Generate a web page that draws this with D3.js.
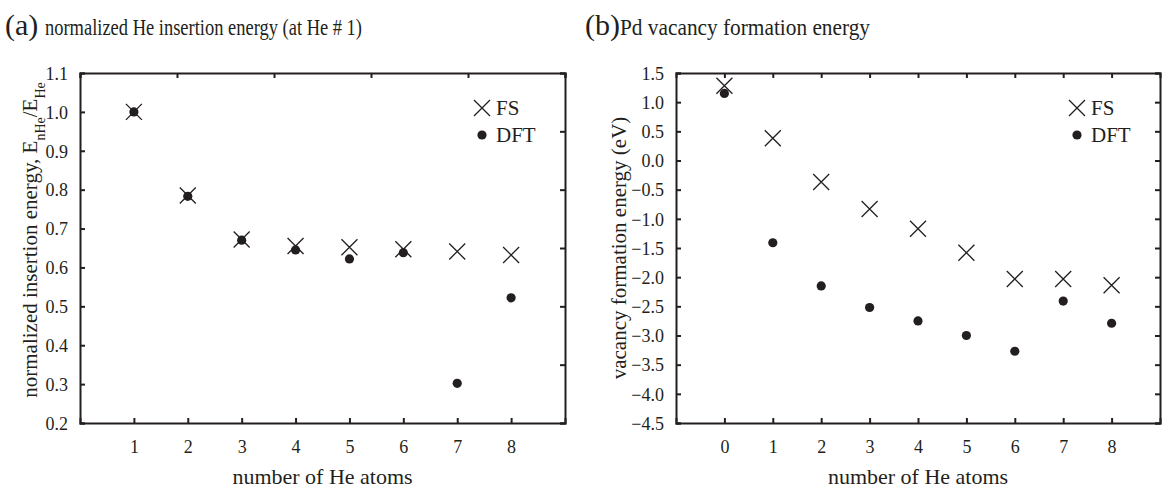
<!DOCTYPE html>
<html>
<head>
<meta charset="utf-8">
<script src="https://cdn.jsdelivr.net/npm/d3@7"></script>
<style>
  body { margin: 0; background: #fff; }
  text { font-family: "Liberation Serif", "Times New Roman", serif; fill: #231f20; }
</style>
</head>
<body>
<svg class="chart"></svg>
<script>
// Panel (a): normalized He insertion energy
const heCountA = [1, 2, 3, 4, 5, 6, 7, 8];
const fsA = [1.0, 0.785, 0.672, 0.655, 0.652, 0.647, 0.641, 0.632];
const dftA = [1.0, 0.783, 0.670, 0.645, 0.622, 0.638, 0.302, 0.522];
const yTicksA = [0.2, 0.3, 0.4, 0.5, 0.6, 0.7, 0.8, 0.9, 1.0, 1.1];

// Panel (b): Pd vacancy formation energy
const heCountB = [0, 1, 2, 3, 4, 5, 6, 7, 8];
const fsB = [1.28, 0.38, -0.37, -0.83, -1.17, -1.58, -2.03, -2.03, -2.14];
const dftB = [1.15, -1.41, -2.15, -2.52, -2.75, -3.0, -3.27, -2.41, -2.79];
const yTicksB = [-4.5, -4.0, -3.5, -3.0, -2.5, -2.0, -1.5, -1.0, -0.5, 0.0, 0.5, 1.0, 1.5];

const width = 1162, height = 489;
const ink = "#231f20";

const svg = d3.select(".chart").attr("width", width).attr("height", height);

// X marker drawn with strokes
const symX = {
  draw(ctx, size) {
    const r = Math.sqrt(size) / 2;
    ctx.moveTo(-r, -r); ctx.lineTo(r, r);
    ctx.moveTo(r, -r); ctx.lineTo(-r, r);
  }
};

function drawPanel(p) {
  const g = svg.append("g").attr("class", "panel");
  const x = d3.scaleLinear().domain(p.xDomain).range([p.left, p.right]);
  const y = d3.scaleLinear().domain(p.yDomain).range([p.bottom, p.top]);

  // frame mirror axes (tick marks only)
  const xTop = d3.scaleLinear().domain([0, p.topTicks]).range([p.left, p.right]);
  const yRight = d3.scaleLinear().domain([0, p.rightTicks]).range([p.bottom, p.top]);

  g.append("g").attr("class", "axis axis--top")
    .attr("transform", `translate(0,${p.top})`)
    .call(d3.axisBottom(p.mirror ? x : xTop).tickValues(p.mirror ? p.xTicks : d3.range(p.topTicks + 1)).tickSize(5).tickFormat(""));
  g.append("g").attr("class", "axis axis--right")
    .attr("transform", `translate(${p.right},0)`)
    .call(d3.axisLeft(p.mirror ? y : yRight).tickValues(p.mirror ? p.yTicks : d3.range(p.rightTicks + 1)).tickSize(5).tickFormat(""));

  g.append("g").attr("class", "axis axis--x")
    .attr("transform", `translate(0,${p.bottom})`)
    .call(d3.axisTop(x).tickValues(p.xTicks).tickSize(5).tickFormat(d3.format("d")));
  g.append("g").attr("class", "axis axis--y")
    .attr("transform", `translate(${p.left},0)`)
    .call(d3.axisRight(y).tickValues(p.yTicks).tickSize(5).tickFormat(d3.format(".1f")));

  g.selectAll(".axis").attr("font-family", null).attr("font-size", null);
  g.selectAll(".axis path.domain").attr("stroke", ink).attr("stroke-width", 2);
  g.selectAll(".axis line").attr("stroke", ink).attr("stroke-width", 2);

  // move tick labels outside the frame
  g.select(".axis--x").selectAll("text")
    .attr("y", 30).attr("dy", 0)
    .style("font-size", "18px");
  g.select(".axis--y").selectAll("text")
    .attr("x", -12).attr("dy", "0.35em").attr("text-anchor", "end")
    .style("font-size", "18px");

  // data
  g.append("g").selectAll("circle").data(p.dft).join("circle")
    .attr("cx", (d, i) => x(p.he[i]))
    .attr("cy", d => y(d))
    .attr("r", 4.6)
    .attr("fill", ink);
  g.append("g").selectAll("path").data(p.fs).join("path")
    .attr("transform", (d, i) => `translate(${x(p.he[i])},${y(d)})`)
    .attr("d", d3.symbol(symX, 256))
    .attr("fill", "none").attr("stroke", ink).attr("stroke-width", 1.3);

  // legend
  const lx = p.right - 83, ly = p.top + 35;
  g.append("path").attr("transform", `translate(${lx},${ly})`)
    .attr("d", d3.symbol(symX, 256)).attr("fill", "none").attr("stroke", ink).attr("stroke-width", 1.3);
  g.append("text").attr("x", lx + 14).attr("y", ly + 7).style("font-size", "21px").text("FS");
  g.append("circle").attr("cx", lx).attr("cy", ly + 27).attr("r", 4.6).attr("fill", ink);
  g.append("text").attr("x", lx + 14).attr("y", ly + 34).style("font-size", "21px").text("DFT");

  // axis titles
  g.append("text").attr("x", (p.left + p.right) / 2).attr("y", 484)
    .attr("text-anchor", "middle").style("font-size", "22px").text("number of He atoms");
  const yt = g.append("text")
    .attr("transform", `translate(${p.yTitleX},${p.yTitleY}) rotate(-90)`)
    .attr("text-anchor", "middle").style("font-size", "21px");
  p.yTitle(yt);

  // panel title
  g.append("text").attr("x", p.titleX).attr("y", 35)
    .style("font-size", "30px").text(p.tag);
  g.append("text").attr("x", p.titleX + p.tagWidth).attr("y", 35)
    .style("font-size", "24px")
    .attr("textLength", p.titleWidth).attr("lengthAdjust", "spacingAndGlyphs")
    .text(p.title);
}

drawPanel({
  he: heCountA, fs: fsA, dft: dftA,
  xDomain: [0, 9], yDomain: [0.2, 1.1],
  xTicks: heCountA, yTicks: yTicksA,
  left: 80, right: 565, top: 73, bottom: 423,
  mirror: false, topTicks: 5, rightTicks: 6,
  yTitleX: 37, yTitleY: 240,
  yTitle: t => {
    t.append("tspan").text("normalized insertion energy, E");
    t.append("tspan").attr("baseline-shift", "sub").style("font-size", "14px").text("nHe");
    t.append("tspan").text("/E");
    t.append("tspan").attr("baseline-shift", "sub").style("font-size", "14px").text("He");
  },
  titleX: 5, tagWidth: 40, titleWidth: 317,
  tag: "(a)", title: "normalized He insertion energy (at He # 1)"
});

drawPanel({
  he: heCountB, fs: fsB, dft: dftB,
  xDomain: [-1, 9], yDomain: [-4.5, 1.5],
  xTicks: heCountB, yTicks: yTicksB,
  left: 676, right: 1160, top: 73, bottom: 423,
  mirror: true, topTicks: 10, rightTicks: 12,
  yTitleX: 626, yTitleY: 248,
  yTitle: t => t.text("vacancy formation energy (eV)"),
  titleX: 585, tagWidth: 35, titleWidth: 250,
  tag: "(b)", title: "Pd vacancy formation energy"
});
</script>
</body>
</html>
